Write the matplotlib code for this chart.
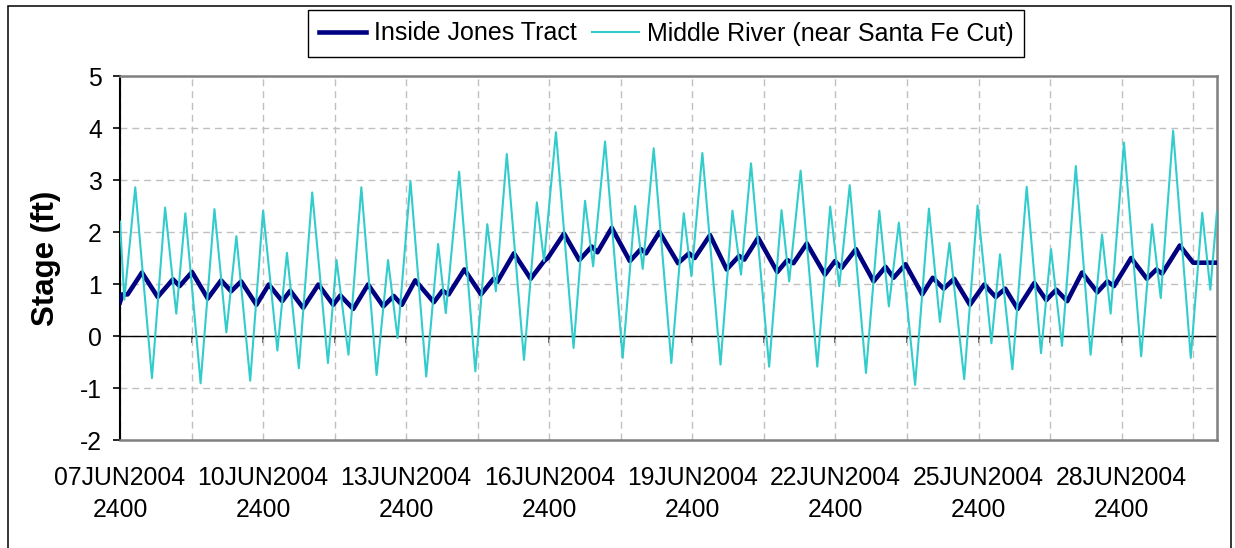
import numpy as np
import matplotlib.pyplot as plt
from matplotlib.patches import Rectangle

plt.rcParams["font.family"] = ["Liberation Sans", "Arial", "DejaVu Sans"]
plt.rcParams["axes.unicode_minus"] = False

# Tage seit 07JUN2004 2400 (Extremwerte)
jones_tag = [0.00, 0.05, 0.16, 0.46, 0.79, 1.11, 1.25, 1.51, 1.84, 2.12, 2.33, 2.54,
             2.86, 3.12, 3.40, 3.57, 3.84, 4.16, 4.47, 4.62, 4.89, 5.20, 5.52, 5.74,
             5.91, 6.19, 6.58, 6.76, 6.89, 7.22, 7.57, 7.83, 7.91, 8.26, 8.61, 8.89,
             8.97, 9.31, 9.63, 9.89, 10.01, 10.31, 10.69, 10.92, 11.03, 11.31, 11.70,
             11.93, 12.05, 12.37, 12.72, 12.98, 13.09, 13.38, 13.78, 13.99, 14.12,
             14.40, 14.78, 14.99, 15.13, 15.43, 15.80, 16.05, 16.22, 16.47, 16.82,
             17.04, 17.27, 17.49, 17.82, 18.12, 18.36, 18.56, 18.82, 19.17, 19.42,
             19.63, 19.86, 20.17, 20.49, 20.70, 20.84, 21.20, 21.53, 21.73, 21.85,
             22.22, 22.50, 23.00]
jones_stage = [0.65, 0.80, 0.80, 1.22, 0.75, 1.09, 0.96, 1.23, 0.72, 1.07, 0.86, 1.05,
               0.60, 0.99, 0.67, 0.87, 0.54, 0.99, 0.60, 0.78, 0.52, 0.99, 0.57, 0.77,
               0.60, 1.07, 0.65, 0.87, 0.80, 1.28, 0.80, 1.10, 1.04, 1.59, 1.10, 1.44,
               1.50, 1.97, 1.46, 1.72, 1.61, 2.08, 1.44, 1.67, 1.59, 2.00, 1.40,
               1.59, 1.50, 1.94, 1.28, 1.54, 1.47, 1.89, 1.23, 1.46, 1.40,
               1.78, 1.18, 1.44, 1.31, 1.67, 1.05, 1.33, 1.12, 1.38, 0.80,
               1.12, 0.91, 1.10, 0.60, 0.99, 0.75, 0.91, 0.52, 1.02, 0.69,
               0.89, 0.67, 1.22, 0.84, 1.05, 0.96, 1.50, 1.10, 1.28, 1.20,
               1.74, 1.41, 1.41]

middle_tag = [0.00, 0.09, 0.32, 0.67, 0.945, 1.18, 1.37, 1.69, 1.98, 2.23, 2.44, 2.73,
              3.00, 3.30, 3.50, 3.75, 4.03, 4.36, 4.54, 4.79, 5.06, 5.38, 5.62, 5.82,
              6.09, 6.42, 6.67, 6.83, 7.11, 7.45, 7.70, 7.88, 8.11, 8.47, 8.74, 8.89,
              9.14, 9.51, 9.75, 9.92, 10.17, 10.54, 10.80, 10.96, 11.19, 11.56, 11.82,
              11.98, 12.21, 12.59, 12.84, 13.02, 13.23, 13.61, 13.87, 14.03, 14.27,
              14.62, 14.89, 15.08, 15.30, 15.64, 15.92, 16.12, 16.33, 16.67, 16.96,
              17.19, 17.39, 17.70, 17.98, 18.27, 18.45, 18.71, 19.01, 19.31, 19.52,
              19.75, 20.04, 20.35, 20.59, 20.77, 21.05, 21.41, 21.64, 21.82, 22.08,
              22.45, 22.69, 22.86, 23.00]
middle_stage = [2.20, 0.70, 2.86, -0.81, 2.47, 0.43, 2.36, -0.91, 2.44, 0.07, 1.92, -0.86,
                2.41, -0.28, 1.60, -0.62, 2.76, -0.52, 1.46, -0.36, 2.86, -0.75, 1.46, -0.04,
                2.98, -0.78, 1.77, 0.44, 3.16, -0.68, 2.15, 0.86, 3.50, -0.46, 2.57, 1.44,
                3.92, -0.23, 2.60, 1.34, 3.74, -0.42, 2.50, 1.29, 3.61, -0.52, 2.36,
                1.15, 3.52, -0.55, 2.41, 1.18, 3.32, -0.59, 2.42, 1.05, 3.18,
                -0.59, 2.49, 0.96, 2.90, -0.71, 2.41, 0.57, 2.18, -0.94, 2.45,
                0.27, 1.79, -0.83, 2.51, -0.14, 1.57, -0.64, 2.87, -0.33, 1.67,
                -0.19, 3.27, -0.36, 1.95, 0.43, 3.72, -0.39, 2.15, 0.73, 3.95,
                -0.42, 2.37, 0.89, 2.40]

tick_tage = np.arange(0, 23, 1.5)
tick_labels = ["07JUN2004\n2400", "", "10JUN2004\n2400", "", "13JUN2004\n2400", "",
               "16JUN2004\n2400", "", "19JUN2004\n2400", "", "22JUN2004\n2400", "",
               "25JUN2004\n2400", "", "28JUN2004\n2400", ""]

fig = plt.figure(figsize=(12.35, 5.48), dpi=100)
ax = fig.add_axes([120 / 1235, 108 / 548, 1097 / 1235, 364 / 548])

ax.plot(jones_tag, jones_stage, color="#000080", lw=3.3,
        label="Inside Jones Tract", zorder=3)
ax.plot(middle_tag, middle_stage, color="#33CCCC", lw=1.5,
        label="Middle River (near Santa Fe Cut)", zorder=4)
ax.axhline(0, color="black", lw=1.0, zorder=2)

ax.set_xlim(0, 23)
ax.set_ylim(-2, 5)
ax.set_yticks(range(-2, 6))
ax.set_xticks(tick_tage)
ax.set_xticklabels(tick_labels, linespacing=1.4)
ax.tick_params(axis="x", length=0, pad=19, labelsize=17.8)
ax.tick_params(axis="y", direction="out", length=5, width=1.2, pad=8, labelsize=17.8)

ax.grid(True, color="#C0C0C0", linestyle=(0, (5, 3.5)), lw=1)
ax.set_axisbelow(True)

for s in ["top", "right", "bottom"]:
    ax.spines[s].set_color("#808080")
    ax.spines[s].set_linewidth(1.8)
ax.spines["left"].set_color("black")
ax.spines["left"].set_linewidth(1.5)

# Striche an der Nulllinie wie im Original
sec = ax.secondary_xaxis(2 / 7)
sec.set_xticks(tick_tage)
sec.tick_params(direction="out", length=5, width=1.2, colors="#404040",
                labelbottom=False, labeltop=False)
sec.spines["bottom"].set_visible(False)
sec.spines["top"].set_visible(False)

ax.set_ylabel("Stage (ft)", fontsize=22.5, fontweight="bold")
ax.yaxis.set_label_coords(-0.054, 0.5)

leg = ax.legend(loc="center", bbox_to_anchor=(666 / 1235, 1 - 33.5 / 548),
                bbox_transform=fig.transFigure, ncol=2, fancybox=False,
                edgecolor="black", fontsize=18, handlelength=1.9,
                handletextpad=0.3, columnspacing=0.6, borderpad=0.45,
                framealpha=1)
leg.get_frame().set_linewidth(1.0)

# Rahmen um das ganze Diagramm
fig.add_artist(Rectangle((8 / 1235, -0.02), 1223 / 1235, 1.02 - 5.5 / 548,
                         transform=fig.transFigure, fill=False,
                         edgecolor="black", lw=1.1))

plt.savefig("out.png", dpi=100)
